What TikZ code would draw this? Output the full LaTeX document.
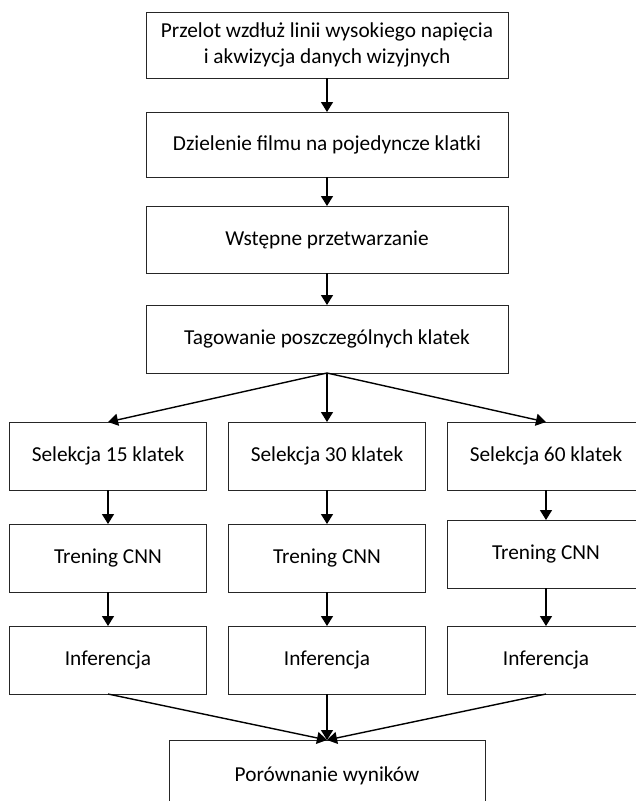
\documentclass[tikz,border=0pt]{standalone}
\usepackage{fontspec}
\setmainfont{Carlito}
\usetikzlibrary{positioning}
\usetikzlibrary{arrows.meta}

\begin{document}
\begin{tikzpicture}[x=1pt,y=1pt,>={Triangle[width=12pt,length=10pt]},font=\fontsize{21.3}{26.5}\selectfont,
	blok/.style={minimum width=362pt,minimum height=66pt,outer sep=0pt,draw=black!85,line width=0.9pt,align=center},
	kolumna/.style={minimum width=197pt,minimum height=68pt,outer sep=0pt,draw=black!85,line width=0.9pt},
	strzalka/.style={->,line width=1.4pt}]
	\useasboundingbox (0,0) rectangle (636,-801);
	\node [blok] at (327,-45) (przelot) {Przelot wzdłuż linii wysokiego napięcia\\i akwizycja danych wizyjnych};
	\node [blok,minimum height=65pt,below=34pt of przelot] (dzielenie) {Dzielenie filmu na pojedyncze klatki};
	\node [blok,minimum height=67pt,below=29pt of dzielenie] (wstepne) {Wstępne przetwarzanie};
	\node [blok,minimum height=68pt,below=32pt of wstepne] (tagowanie) {Tagowanie poszczególnych klatek};

	\node [kolumna,below=49pt of tagowanie] (sel30) {Selekcja 30 klatek};
	\node [kolumna,left=22pt of sel30] (sel15) {Selekcja 15 klatek};
	\node [kolumna,right=22pt of sel30] (sel60) {Selekcja 60 klatek};

	\node [kolumna,below=34pt of sel15] (tren15) {Trening CNN};
	\node [kolumna,below=34pt of sel30] (tren30) {Trening CNN};
	\node [kolumna,below=30pt of sel60] (tren60) {Trening CNN};

	\node [kolumna,below=34pt of tren15] (inf15) {Inferencja};
	\node [kolumna,below=34pt of tren30] (inf30) {Inferencja};
	\node [kolumna,below=38pt of tren60] (inf60) {Inferencja};

	\node [kolumna,minimum width=316pt,minimum height=72pt,below=46pt of inf30] (porownanie) {Porównanie wyników};

	\draw [strzalka] (przelot) -- (dzielenie);
	\draw [strzalka] (dzielenie) -- (wstepne);
	\draw [strzalka] (wstepne) -- (tagowanie);
	\foreach \n in {15,30,60} {
		\draw [strzalka] (tagowanie.south) -- (sel\n.north);
		\draw [strzalka] (sel\n) -- (tren\n);
		\draw [strzalka] (tren\n) -- (inf\n);
		\draw [strzalka] (inf\n.south) -- (porownanie.north);
	}
\end{tikzpicture}
\end{document}
